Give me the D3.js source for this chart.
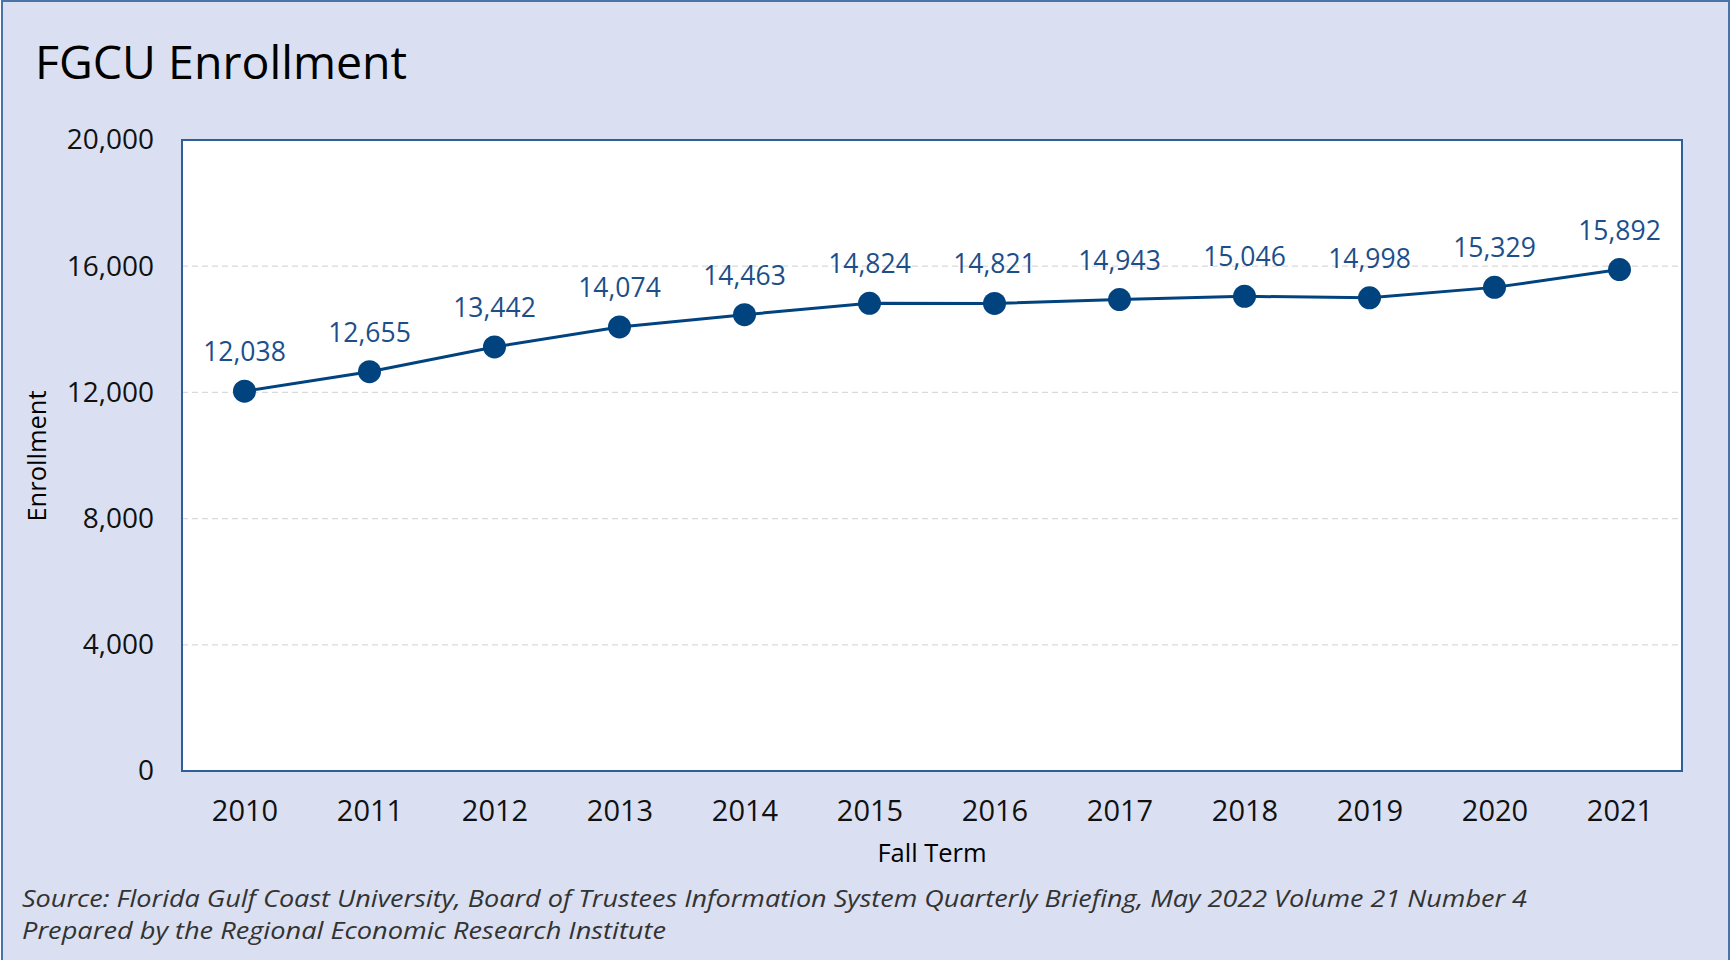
<!DOCTYPE html>
<html><head><meta charset="utf-8">
<script src="https://cdn.jsdelivr.net/npm/d3@7"></script>
<style>html,body{margin:0;padding:0;background:#fff;}svg{display:block;}</style>
</head><body>
<svg id="c" width="1733" height="960"></svg>
<script>
const years = ["2010","2011","2012","2013","2014","2015","2016","2017","2018","2019","2020","2021"];
const enrollment = [12038,12655,13442,14074,14463,14824,14821,14943,15046,14998,15329,15892];
const yTicks = [0,4000,8000,12000,16000,20000];
const title = "FGCU Enrollment";
const sourceLines = ["Source: Florida Gulf Coast University, Board of Trustees Information System Quarterly Briefing, May 2022 Volume 21 Number 4","Prepared by the Regional Economic Research Institute"];
const sourceWidths = [1505, 644];

const font = "'Open Sans','Noto Sans',sans-serif";
const svg = d3.select("#c");
const W=1733,H=960;
const m={l:182,r:1682,t:140,b:771};
const navy="#00437f";

svg.append("rect").attr("x",2).attr("y",1).attr("width",1727).attr("height",H+5)
  .attr("fill","#dae0f1").attr("stroke","#4a74a8").attr("stroke-width",2);

svg.append("text").attr("x",35).attr("y",79).attr("font-family",font).attr("font-size",46.5)
  .attr("fill","#000").text(title);

const x=d3.scalePoint().domain(years).range([m.l,m.r]).padding(0.5);
const y=d3.scaleLinear().domain([0,20000]).range([m.b,m.t]);

svg.append("rect").attr("x",m.l).attr("y",m.t).attr("width",m.r-m.l).attr("height",m.b-m.t)
  .attr("fill","#fff");

// gridlines
svg.append("g").selectAll("line").data(yTicks.filter(d=>d>0&&d<20000)).join("line")
  .attr("x1",m.l).attr("x2",m.r).attr("y1",d=>y(d)).attr("y2",d=>y(d))
  .attr("stroke","#d9d9d9").attr("stroke-width",1.3).attr("stroke-dasharray","6,4");

svg.append("rect").attr("x",m.l).attr("y",m.t).attr("width",m.r-m.l).attr("height",m.b-m.t)
  .attr("fill","none").attr("stroke","#2e5f9a").attr("stroke-width",2);

// y axis
const ya=svg.append("g").attr("transform",`translate(${m.l},0)`)
  .call(d3.axisLeft(y).tickValues(yTicks).tickFormat(d3.format(",")).tickSize(0).tickPadding(28));
ya.select(".domain").remove();
ya.selectAll("text").attr("font-family",font).attr("font-size",28).attr("fill","#111");

// x axis
const xa=svg.append("g").attr("transform",`translate(0,${m.b})`)
  .call(d3.axisBottom(x).tickSize(0).tickPadding(29));
xa.select(".domain").remove();
xa.selectAll("text").attr("font-family",font).attr("font-size",29).attr("fill","#111");

// axis titles
svg.append("text").attr("x",932).attr("y",862).attr("text-anchor","middle")
  .attr("font-family",font).attr("font-size",25.5).attr("fill","#000").text("Fall Term");
svg.append("text").attr("transform","translate(46,456) rotate(-90)").attr("text-anchor","middle")
  .attr("font-family",font).attr("font-size",25.5).attr("fill","#000").text("Enrollment");

const data=years.map((yr,i)=>({yr,v:enrollment[i]}));
svg.append("path").datum(data).attr("fill","none").attr("stroke",navy).attr("stroke-width",3)
  .attr("d",d3.line().x(d=>x(d.yr)).y(d=>y(d.v)));
svg.append("g").selectAll("circle").data(data).join("circle")
  .attr("cx",d=>x(d.yr)).attr("cy",d=>y(d.v)).attr("r",11.5).attr("fill",navy);
svg.append("g").selectAll("text").data(data).join("text")
  .attr("x",d=>x(d.yr)).attr("y",d=>y(d.v)-30).attr("text-anchor","middle")
  .attr("font-family",font).attr("font-size",26.5).attr("fill","#1c4f8a")
  .text(d=>d3.format(",")(d.v));

svg.append("g").selectAll("text").data(sourceLines).join("text")
  .attr("x",22).attr("y",(d,i)=>907+i*32).attr("font-family",font).attr("font-style","italic")
  .attr("font-size",24.5).attr("fill","#333")
  .attr("textLength",(d,i)=>sourceWidths[i]).attr("lengthAdjust","spacingAndGlyphs").text(d=>d);
</script>
</body></html>
